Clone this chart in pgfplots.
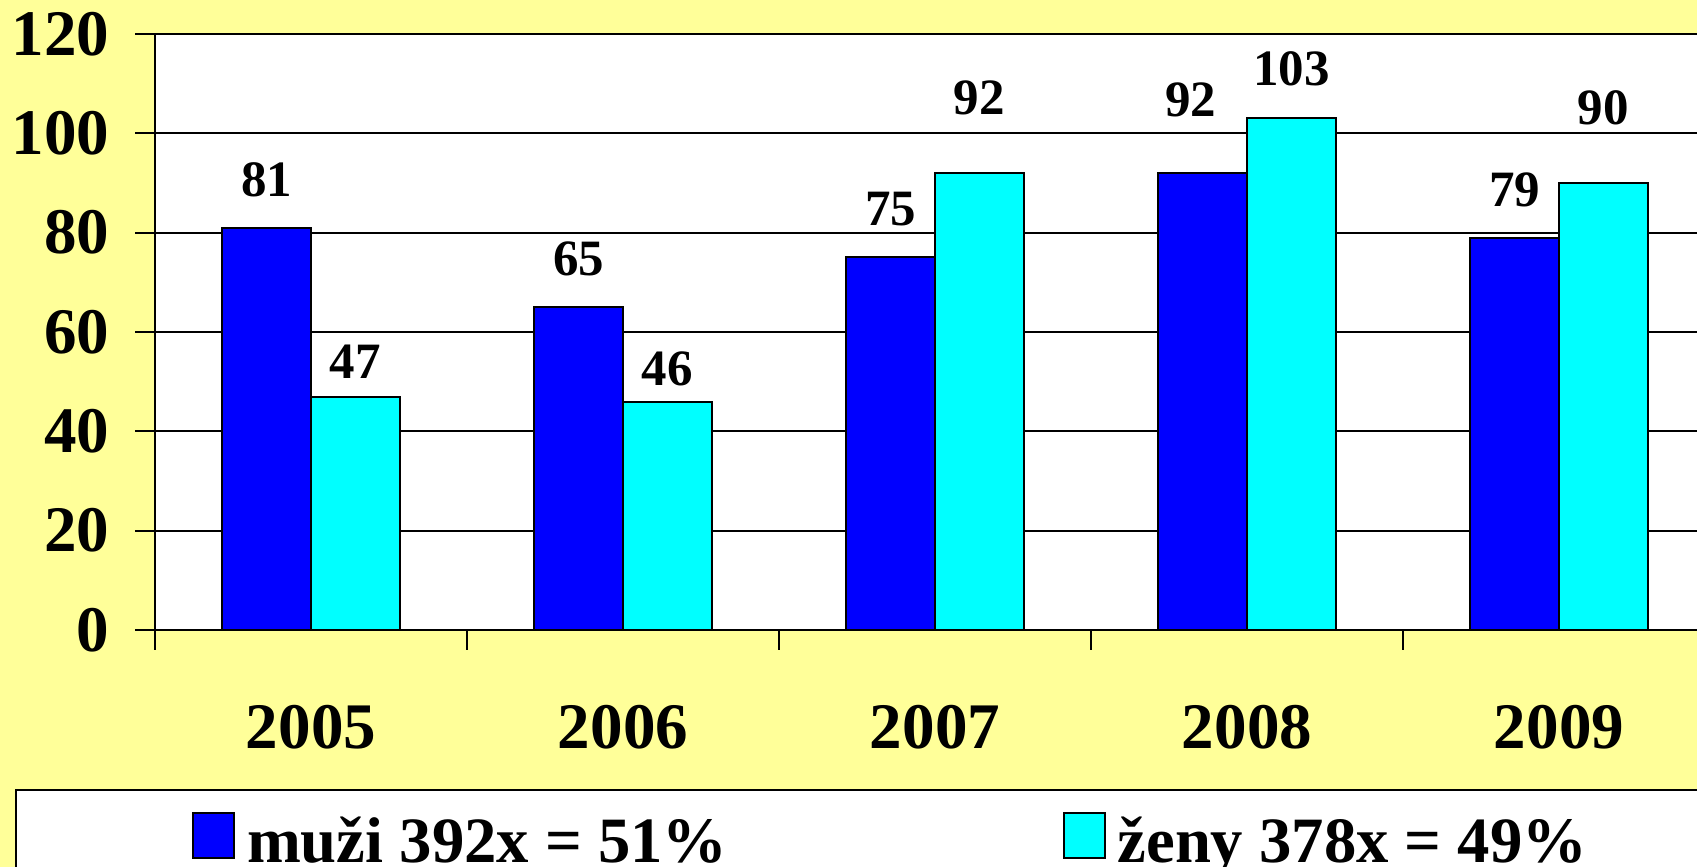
\documentclass[border=0pt]{standalone}
\usepackage{fontspec}
\setmainfont{Liberation Serif}
\usepackage{pgfplots}
\usepackage{pgfplotstable}
\pgfplotsset{compat=1.18}
\definecolor{bgyellow}{RGB}{255,255,153}
\definecolor{barblue}{RGB}{0,0,255}
\definecolor{barcyan}{RGB}{0,255,255}

\pgfplotstableread{
x y
0 81
1 65
2 75
3 92
4 79
}\muzi
\pgfplotstableread{
x y
0 47
1 46
2 92
3 103
4 90
}\zeny

\begin{document}
\begin{tikzpicture}
\useasboundingbox (0,0) rectangle (169.7mm,86.7mm);
\clip (0,0) rectangle (169.7mm,86.7mm);
\fill[bgyellow] (0,0) rectangle (169.7mm,86.7mm);
\begin{axis}[
  at={(15.5mm,23.7mm)}, anchor=south west,
  scale only axis,
  width=156mm, height=59.6mm,
  xmin=-0.5, xmax=4.5,
  ymin=0, ymax=120,
  ytick={0,20,...,120},
  xtick={0,1,2,3,4},
  xticklabels={2005,2006,2007,2008,2009},
  minor xtick={-0.5,0.5,1.5,2.5,3.5,4.5},
  major x tick style={draw=none},
  tick align=outside,
  major tick length=2mm,
  minor tick length=2mm,
  tick style={black, line width=0.22mm},
  axis lines*=left,
  axis line style={black, line width=0.22mm},
  ymajorgrids,
  grid style={black, line width=0.2mm},
  axis background/.style={fill=white},
  /pgf/number format/assume math mode=true,
  ticklabel style={font=\fontsize{18.5}{20}\selectfont\bfseries, inner sep=0pt},
  yticklabel style={xshift=-2.5mm},
  xticklabel style={yshift=-5.5mm},
  ybar,
  bar width=0.285,
  nodes near coords,
  every node near coord/.append style={font=\fontsize{14.5}{16}\selectfont\bfseries, inner sep=0pt, anchor=south, black},
  legend columns=2,
  legend cell align=left,
  legend style={at={(-0.0897,-0.2668)}, anchor=north west,
    draw=black, line width=0.2mm, fill=white,
    inner xsep=17.6mm, inner ysep=2.2mm,
    font=\fontsize{18.4}{20}\selectfont\bfseries,
    nodes={inner sep=0pt},
    /tikz/every odd column/.append style={column sep=1.2mm},
    /tikz/every even column/.append style={column sep=33.5mm}},
]
\addplot[fill=barblue, draw=black, line width=0.2mm, bar shift=-0.1425,
  coordinate style/.condition={\coordindex==0}{yshift=3mm},
  coordinate style/.condition={\coordindex==1}{yshift=3mm},
  coordinate style/.condition={\coordindex==2}{yshift=3mm},
  coordinate style/.condition={\coordindex==3}{yshift=5.5mm, xshift=-1.2mm},
  coordinate style/.condition={\coordindex==4}{yshift=3mm},
  legend image code/.code={\draw[fill=barblue,draw=black,line width=0.2mm] (0mm,-1.6mm) rectangle (4.1mm,2.9mm);}]
  table[x=x,y=y] {\muzi};
\addlegendentry{muži 392x = 51\%}
\addplot[fill=barcyan, draw=black, line width=0.2mm, bar shift=0.1425,
  coordinate style/.condition={\coordindex==0}{yshift=1.7mm},
  coordinate style/.condition={\coordindex==1}{yshift=1.5mm},
  coordinate style/.condition={\coordindex==2}{yshift=5.7mm},
  coordinate style/.condition={\coordindex==3}{yshift=3.1mm},
  coordinate style/.condition={\coordindex==4}{yshift=5.7mm},
  legend image code/.code={\draw[fill=barcyan,draw=black,line width=0.2mm] (0mm,-1.6mm) rectangle (4.1mm,2.9mm);}]
  table[x=x,y=y] {\zeny};
\addlegendentry{ženy 378x = 49\%}
\end{axis}
\end{tikzpicture}
\end{document}
